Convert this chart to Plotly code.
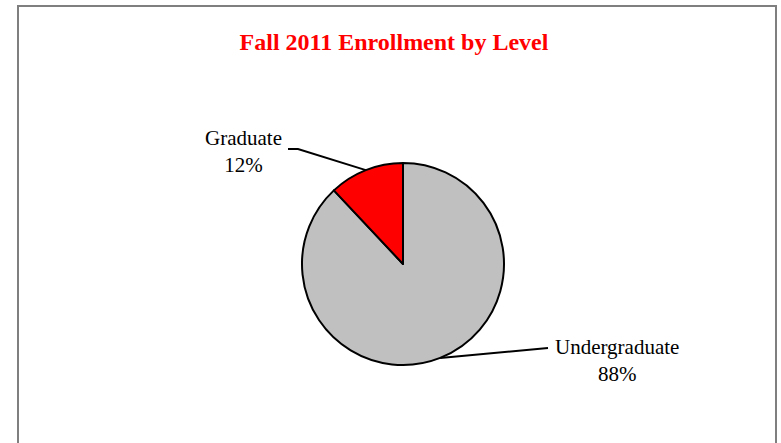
import math
import plotly.graph_objects as go

# ---- data ----
labels = ["Undergraduate", "Graduate"]
values = [88, 12]
colors = ["#C0C0C0", "#FF0000"]
title_text = "Fall 2011 Enrollment by Level"

W, H = 781, 443
cx, cy, R = 403, 264, 101  # pie centre / radius in pixels


def px(x):
    return x / W


def py(y):
    return 1 - y / H


fig = go.Figure()
fig.add_trace(go.Pie(
    labels=labels,
    values=values,
    sort=False,
    direction="clockwise",
    rotation=0,
    marker=dict(colors=colors, line=dict(color="black", width=2)),
    textinfo="none",
    hoverinfo="label+percent",
    showlegend=False,
    domain=dict(x=[px(cx - R), px(cx + R)], y=[py(cy + R), py(cy - R)]),
))

# leader lines and labels, computed from slice mid-angles
total = sum(values)
label_pos = {"Undergraduate": (617, 360, 548, 348), "Graduate": (244, 151, 288, 149)}
annotations = []
shapes = []
start = 0.0
for lab, v in zip(labels, values):
    frac = v / total
    mid = (start + frac / 2) * 2 * math.pi  # clockwise from top
    start += frac
    ex = cx + R * math.sin(mid)
    ey = cy - R * math.cos(mid)
    tx, ty, lx, ly = label_pos[lab]
    pct = f"{round(100 * frac)}%"
    annotations.append(dict(
        x=px(tx), y=py(ty), xref="paper", yref="paper",
        text=f"{lab}<br>{pct}", showarrow=False,
        font=dict(family="Liberation Serif, Times New Roman, serif", size=21, color="black"),
        align="center", xanchor="center", yanchor="middle",
    ))
    if lab == "Graduate":
        path = f"M {px(lx)},{py(ly)} L {px(lx + 10)},{py(ly)} L {px(ex)},{py(ey)}"
    else:
        path = f"M {px(lx)},{py(ly)} L {px(ex)},{py(ey)}"
    shapes.append(dict(type="path", xref="paper", yref="paper", path=path,
                       line=dict(color="black", width=2)))

# chart frame
shapes.append(dict(type="path", xref="paper", yref="paper",
                   path=f"M {px(18)},{py(450)} L {px(18)},{py(6)} L {px(776)},{py(6)} L {px(776)},{py(450)}",
                   line=dict(color="#7f7f7f", width=2)))

fig.update_layout(
    width=W, height=H,
    margin=dict(l=0, r=0, t=0, b=0),
    paper_bgcolor="white", plot_bgcolor="white",
    title=dict(text=f"<b>{title_text}</b>", x=px(394), y=py(42), xanchor="center", yanchor="middle",
               font=dict(family="Liberation Serif, Times New Roman, serif", size=24, color="#FF0000")),
    annotations=annotations,
    shapes=shapes,
)

fig.write_html("out.html", config={"displayModeBar": False},
               post_script="document.body.style.margin='0';")
